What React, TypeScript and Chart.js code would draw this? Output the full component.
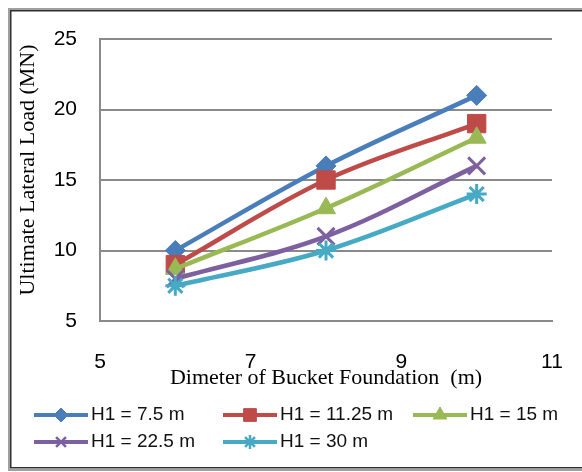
import React, { useEffect, useRef } from 'react';
import { Chart, registerables } from 'chart.js';
import * as helpers from 'chart.js/helpers';

Chart.register(...registerables);

// ---- data ----
const diameters = [6, 8, 10];
const seriesLabels = ['H1 = 7.5 m', 'H1 = 11.25 m', 'H1 = 15 m', 'H1 = 22.5 m', 'H1 = 30 m'];
const loadH1_7_5 = [10, 16, 21];
const loadH1_11_25 = [9, 15, 19];
const loadH1_15 = [8.7, 13, 18];
const loadH1_22_5 = [8, 11, 16];
const loadH1_30 = [7.5, 10, 14];
const xAxisTitle = 'Dimeter of Bucket Foundation  (m)';
const yAxisTitle = 'Ultimate Lateral Load (MN)';

// ---- styles ----
const colors = ['#4A7EBB', '#BE4B48', '#98B954', '#7D60A0', '#46AAC5'];
const pointStyles = ['rectRot', 'rect', 'triangle', 'crossRot', 'star'];
const pointRadii = [10, 13, 11, 12, 10];
const pointBorders = [1, 1, 1, 3, 3];
const legendRadii = [7, 9, 8, 7, 7];
const legendColX = [34, 223, 413];
const legendRowY = [415, 442];
const legendLineLen = 54;
const gridColor = '#8a8a8a';
const serifFont = '"Liberation Serif", "Times New Roman", serif';
const sansFont = '"Liberation Sans", Arial, sans-serif';

const seriesValues = [loadH1_7_5, loadH1_11_25, loadH1_15, loadH1_22_5, loadH1_30];

const framePlugin = {
  id: 'frame',
  beforeDraw(chart: any) {
    const ctx = chart.ctx;
    ctx.save();
    ctx.fillStyle = '#ffffff';
    ctx.fillRect(0, 0, chart.width, chart.height);
    ctx.strokeStyle = '#a0a0a0';
    ctx.lineWidth = 2;
    ctx.strokeRect(9, 9, 600, 461);
    ctx.strokeStyle = '#303030';
    ctx.lineWidth = 1.5;
    ctx.strokeRect(10.75, 10.75, 600, 457);
    ctx.restore();
  },
};

const yTitlePlugin = {
  id: 'yTitle',
  afterDraw(chart: any) {
    const ctx = chart.ctx;
    ctx.save();
    ctx.translate(28, 170);
    ctx.rotate(-Math.PI / 2);
    ctx.fillStyle = '#000';
    ctx.font = `22px ${serifFont}`;
    ctx.textAlign = 'center';
    ctx.textBaseline = 'middle';
    ctx.fillText(yAxisTitle, 0, 0);
    ctx.restore();
  },
};

const legendPlugin = {
  id: 'customLegend',
  afterDraw(chart: any) {
    const ctx = chart.ctx;
    ctx.save();
    chart.data.datasets.forEach((ds: any, i: number) => {
      const x = legendColX[i % 3];
      const y = legendRowY[Math.floor(i / 3)];
      ctx.strokeStyle = ds.borderColor;
      ctx.lineWidth = 4;
      ctx.lineCap = 'butt';
      ctx.beginPath();
      ctx.moveTo(x, y);
      ctx.lineTo(x + legendLineLen, y);
      ctx.stroke();
      ctx.fillStyle = ds.borderColor;
      ctx.strokeStyle = ds.borderColor;
      ctx.lineWidth = pointBorders[i] === 1 ? 1 : 2.5;
      helpers.drawPoint(ctx, {
        pointStyle: ds.pointStyle,
        radius: legendRadii[i],
        rotation: 0,
        borderWidth: ctx.lineWidth,
      } as any, x + legendLineLen / 2, y);
      ctx.fillStyle = '#111';
      ctx.font = `19px ${sansFont}`;
      ctx.textBaseline = 'middle';
      ctx.textAlign = 'left';
      ctx.fillText(ds.label, x + legendLineLen + 3, y);
    });
    ctx.restore();
  },
};

export default function App() {
  const ref = useRef<HTMLCanvasElement>(null);
  useEffect(() => {
    if (!ref.current) return;
    const datasets = seriesLabels.map((label, i) => ({
      label,
      data: diameters.map((d, j) => ({ x: d, y: seriesValues[i][j] })),
      borderColor: colors[i],
      backgroundColor: colors[i],
      borderWidth: 4.5,
      pointStyle: pointStyles[i],
      pointRadius: pointRadii[i],
      pointBorderWidth: pointBorders[i],
      pointBackgroundColor: colors[i],
      pointBorderColor: colors[i],
      tension: 0.35,
      order: seriesLabels.length - i,
    }));
    const chart = new Chart(ref.current, {
      type: 'line',
      data: { datasets },
      options: {
        animation: false,
        responsive: false,
        events: [],
        layout: { padding: { left: 0, right: 30, top: 39, bottom: 72 } },
        plugins: { legend: { display: false }, tooltip: { enabled: false } },
        scales: {
          x: {
            type: 'linear',
            min: 5,
            max: 11,
            ticks: {
              stepSize: 2,
              padding: 29,
              color: '#000',
              font: { family: sansFont, size: 21 },
            },
            grid: { display: false, drawTicks: false },
            border: { display: true, color: gridColor, width: 2 },
            title: {
              display: true,
              text: xAxisTitle,
              color: '#000',
              font: { family: serifFont, size: 22 },
              padding: { top: 0, bottom: 9 },
            },
            afterFit(scale: any) {
              scale.height = 79;
              scale.paddingLeft = 0;
              scale.paddingRight = 0;
            },
          },
          y: {
            type: 'linear',
            min: 5,
            max: 25,
            ticks: {
              stepSize: 5,
              padding: 23,
              color: '#000',
              font: { family: sansFont, size: 21 },
            },
            grid: { color: gridColor, lineWidth: 2, drawTicks: false },
            border: { display: true, color: gridColor, width: 2 },
            title: { display: false },
            afterFit(scale: any) {
              scale.width = 100;
            },
          },
        },
      } as any,
      plugins: [framePlugin, yTitlePlugin, legendPlugin],
    });
    return () => chart.destroy();
  }, []);
  return (
    <div style={{ position: 'absolute', left: 0, top: 0, width: 582, height: 472 }}>
      <canvas ref={ref} width={582} height={472} style={{ display: 'block' }} />
    </div>
  );
}
